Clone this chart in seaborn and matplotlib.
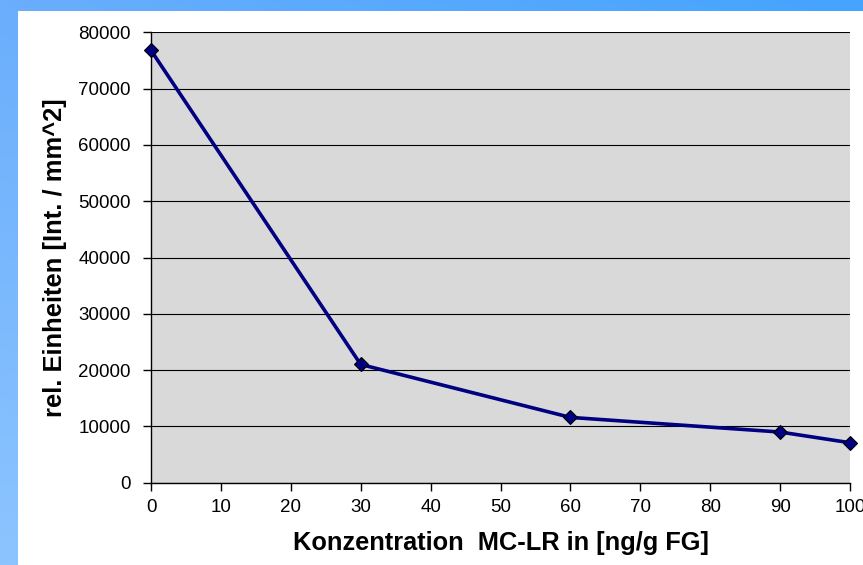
import numpy as np
import pandas as pd
import matplotlib
matplotlib.use("Agg")
import matplotlib.pyplot as plt
import seaborn as sns
from matplotlib.patches import Rectangle

concentration = [0, 30, 60, 90, 100]
intensity = [76800, 21000, 11600, 9000, 7100]
x_ticks = [0, 10, 20, 30, 40, 50, 60, 70, 80, 90, 100]
y_ticks = [0, 10000, 20000, 30000, 40000, 50000, 60000, 70000, 80000]

sns.set_theme(style="white")
plt.rcParams['font.family'] = ['Liberation Sans', 'DejaVu Sans']
plt.rcParams['text.color'] = 'black'
plt.rcParams['axes.labelcolor'] = 'black'

df = pd.DataFrame({"x": concentration, "y": intensity})

fig = plt.figure(figsize=(8.63, 5.65), dpi=100)
fig.patch.set_facecolor("white")

# background frame with gradient (left + top bands)
bg = fig.add_axes([0, 0, 1, 1], zorder=-10)
bg.set_xlim(0, 863)
bg.set_ylim(565, 0)
bg.axis("off")
h, w = 100, 100
yy, xx = np.mgrid[0:h, 0:w] / 99.0
c_top_left = np.array([0x6a, 0xae, 0xfc]) / 255
c_top_right = np.array([0x44, 0xa4, 0xff]) / 255
c_bottom = np.array([0x8c, 0xc4, 0xff]) / 255
img = (c_top_left[None, None, :] * (1 - xx[..., None]) + c_top_right[None, None, :] * xx[..., None]) * (1 - yy[..., None]) \
      + c_bottom[None, None, :] * yy[..., None]
bg.imshow(img, extent=[0, 863, 565, 0], aspect="auto", interpolation="bilinear")
bg.add_patch(Rectangle((18, 11), 863 - 18, 565 - 11, facecolor="white", edgecolor="none"))

ax = fig.add_axes([151 / 863, (565 - 482.7) / 565, (850 - 151) / 863, (482.7 - 32.3) / 565])
ax.set_facecolor("#d9d9d9")
sns.lineplot(data=df, x="x", y="y", ax=ax, color="#000080", linewidth=2.6,
             marker="D", markersize=7, markerfacecolor="#000080",
             markeredgecolor="black", markeredgewidth=0.8, clip_on=False, zorder=5)

ax.set_xlim(0, 100)
ax.set_ylim(0, 80000)
ax.set_xticks(x_ticks)
ax.set_yticks(y_ticks)
ax.set_xticklabels([str(v) for v in x_ticks])
ax.set_yticklabels([str(v) for v in y_ticks])
ax.yaxis.grid(True, color="black", linewidth=0.8)
ax.xaxis.grid(False)
ax.set_axisbelow(True)
for s in ["top", "right"]:
    ax.spines[s].set_visible(False)
for s in ["left", "bottom"]:
    ax.spines[s].set_color("black")
    ax.spines[s].set_linewidth(1.0)
ax.tick_params(axis="both", which="major", direction="out", length=5.5, width=1,
               color="black", labelsize=13.5, labelcolor="black",
               bottom=True, left=True)
ax.tick_params(axis="y", pad=9)
ax.tick_params(axis="x", pad=6)
ax.set_xlabel("Konzentration  MC-LR in [ng/g FG]", fontsize=18.3, fontweight="bold", labelpad=11, color="black")
ax.set_ylabel("rel. Einheiten [Int. / mm^2]", fontsize=18.4, fontweight="bold", labelpad=8, color="black")

fig.savefig("out.png", dpi=100)
